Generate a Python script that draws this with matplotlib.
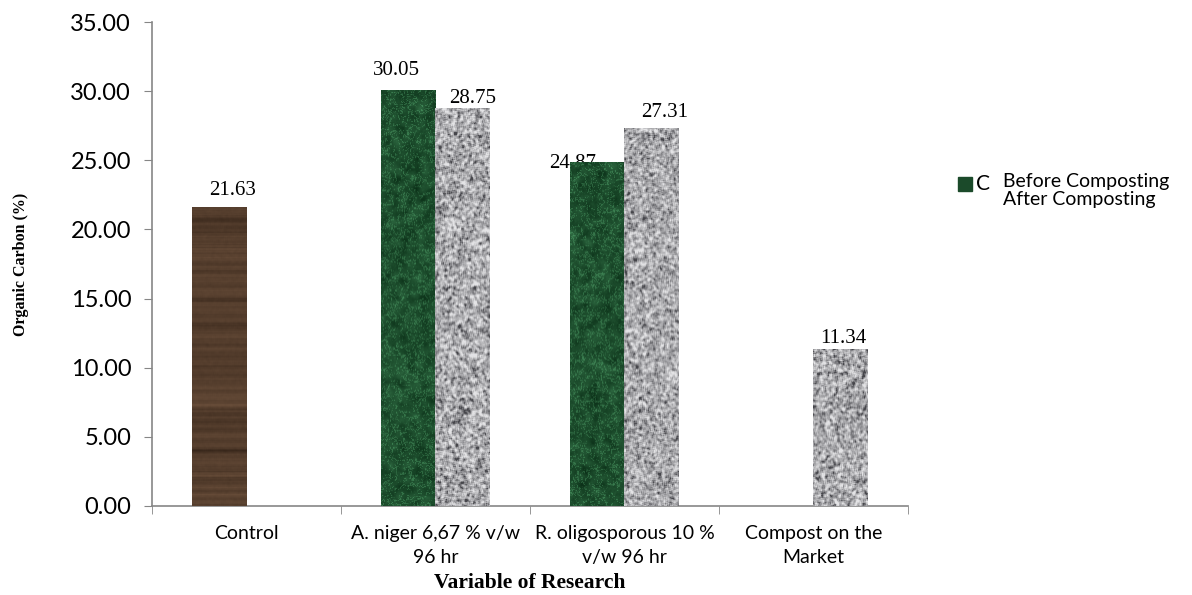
import numpy as np
import matplotlib.pyplot as plt

categories = ['Control', 'A. niger 6,67 % v/w\n96 hr',
              'R. oligosporous 10 %\nv/w 96 hr', 'Compost on the\nMarket']
before = [21.63, 30.05, 24.87, np.nan]
after = [np.nan, 28.75, 27.31, 11.34]

yticks = [0, 5, 10, 15, 20, 25, 30, 35]

# label nudges in pixels (dx, dy above bar top)
before_off = [(13, 12), (-12, 15), (-25, -6), (0, 0)]
after_off = [(0, 0), (10, 5), (13, 11), (3, 6)]

rng = np.random.default_rng(7)


def blur(a, k):
    # simple box blur along both axes
    ker = np.ones(k) / k
    a = np.apply_along_axis(lambda r: np.convolve(r, ker, mode='same'), 1, a)
    a = np.apply_along_axis(lambda c: np.convolve(c, ker, mode='same'), 0, a)
    return a


def norm(a):
    return (a - a.min()) / (a.max() - a.min() + 1e-9)


def mix(t, c0, c1):
    c0 = np.array(c0) / 255.0
    c1 = np.array(c1) / 255.0
    return c0 + (c1 - c0) * t[..., None]


def wood(h, w):
    streak = blur(rng.normal(size=(h + 12, 1)).repeat(w + 12, axis=1), 4)
    grain = blur(rng.normal(size=(h + 12, w + 12)), 3) * 0.25
    t = norm(streak + grain)[6:-6, 6:-6]
    return mix(t, (55, 38, 26), (105, 78, 58))


def marble(h, w):
    pad = 16
    base = norm(blur(blur(rng.normal(size=(h + 2 * pad, w + 2 * pad)), 7), 5))
    vein = norm(blur(rng.normal(size=(h + 2 * pad, w + 2 * pad)), 4))
    lines = np.exp(-((vein - 0.5) / 0.035) ** 2)
    speck = norm(blur(rng.normal(size=(h + 2 * pad, w + 2 * pad)), 2))
    t = base * 0.45 + lines * 0.35 + speck * 0.15
    t = np.clip(t, 0, 1)[pad:-pad, pad:-pad]
    return mix(t, (6, 40, 18), (80, 160, 105))


def granite(h, w):
    t = norm(blur(rng.normal(size=(h + 8, w + 8)), 3))[4:-4, 4:-4]
    t = np.clip((t - 0.2) / 0.55, 0, 1) ** 0.7
    return mix(t, (70, 70, 75), (228, 228, 230))


fig = plt.figure(figsize=(11.92, 5.95), dpi=100)
ax = fig.add_axes([0.1275, 0.1496, 0.6342, 0.8134])

x = np.arange(len(categories))
w = 0.288
ymax = 35.0
px_per_unit = 484 / ymax


def draw_bars(xpos, vals, textures, offsets):
    for xi, v, tex, (dx, dy) in zip(xpos, vals, textures, offsets):
        if np.isnan(v):
            continue
        bar = ax.bar(xi, v, width=w, color='none', edgecolor='none', zorder=3)[0]
        rows = max(int(v * px_per_unit), 4)
        img = tex(rows, 55)
        im = ax.imshow(img, extent=[xi - w / 2, xi + w / 2, 0, v], aspect='auto',
                       interpolation='bilinear', zorder=3)
        im.set_clip_path(bar)
        ax.annotate(f'{v:.2f}', (xi, v), xytext=(dx, dy), textcoords='offset pixels',
                    ha='center', va='baseline', fontsize=15,
                    family='Liberation Serif', zorder=2)


before_tex = [wood, marble, marble, marble]
after_tex = [granite, granite, granite, granite]
draw_bars(x - w / 2, before, before_tex, before_off)
draw_bars(x + w / 2, after, after_tex, after_off)

ax.set_xlim(-0.5, len(categories) - 0.5)
ax.set_ylim(0, ymax)
ax.set_yticks(yticks)
ax.set_yticklabels([f'{t:.2f}' for t in yticks], fontsize=17, family='Lato')
ax.set_xticks(x)
ax.set_xticklabels(categories, fontsize=14, family='Lato', linespacing=1.45)
ax.set_xticks(np.arange(len(categories) + 1) - 0.5, minor=True)
ax.tick_params(axis='x', which='major', length=0, pad=14)
ax.tick_params(axis='x', which='minor', length=6, color='#868686', direction='out')
ax.tick_params(axis='y', length=6, color='#868686', direction='out', pad=9)

for s in ['top', 'right']:
    ax.spines[s].set_visible(False)
for s in ['left', 'bottom']:
    ax.spines[s].set_color('#868686')
    ax.spines[s].set_linewidth(1.2)

ax.set_ylabel('Organic Carbon (%)', fontsize=11.5, fontweight='bold',
              family='Liberation Serif', labelpad=30)
ax.set_xlabel('Variable of Research', fontsize=15.5, fontweight='bold',
              family='Liberation Serif', labelpad=5)

# legend as drawn in the source figure
fig.patches.append(plt.Rectangle((958 / 1192, 1 - 191 / 595), 14 / 1192, 14 / 595,
                                 transform=fig.transFigure, color='#1b4a2a'))
fig.text(976 / 1192, 1 - 184 / 595, 'C', fontsize=15, family='Lato', va='center')
fig.text(1003 / 1192, 1 - 181 / 595, 'Before Composting', fontsize=14,
         family='Lato', va='center')
fig.text(1003 / 1192, 1 - 200 / 595, 'After Composting', fontsize=14,
         family='Lato', va='center')

plt.savefig('out.png', dpi=100)
plt.close()
